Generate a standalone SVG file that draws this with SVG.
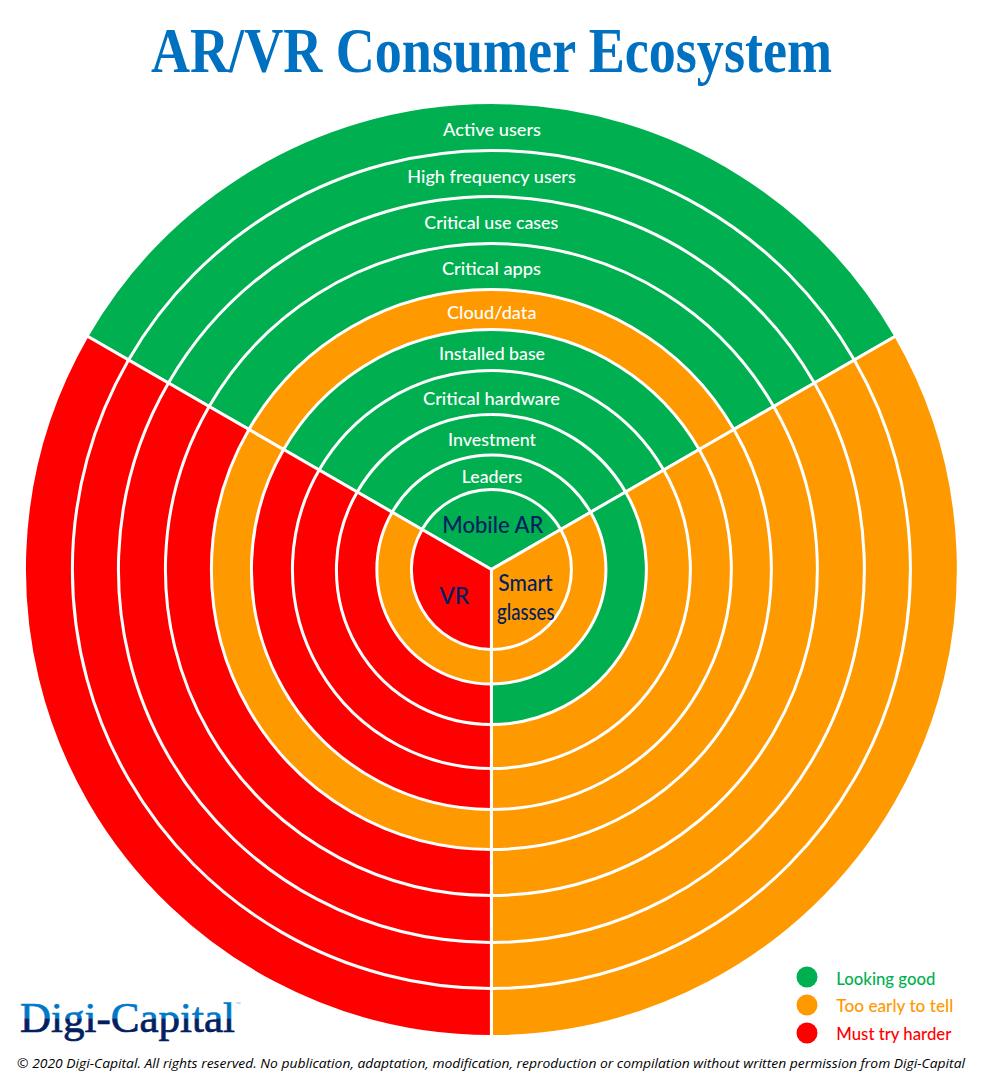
<svg xmlns="http://www.w3.org/2000/svg" width="983" height="1080" viewBox="0 0 983 1080">
<style>
.g{fill:#00B050}.o{fill:#FF9900}.r{fill:#FF0000}
.ring path{stroke:#fff;stroke-width:3;stroke-linejoin:miter}
text{font-family:"Lato","Liberation Sans",sans-serif}
.lab{font-size:18px;fill:#fff;font-weight:500}
.core{font-size:23px;fill:#002060;font-weight:500}
.leg{font-size:17px;font-weight:500}
</style>
<defs>
<linearGradient id="logo" gradientUnits="userSpaceOnUse" x1="0" y1="1003" x2="0" y2="1045">
<stop offset="0" stop-color="#0078C8"/><stop offset="0.36" stop-color="#0078C8"/><stop offset="0.39" stop-color="#002060"/><stop offset="1" stop-color="#002060"/>
</linearGradient>
</defs>
<rect width="983" height="1080" fill="#fff"/>
<text id="title" x="151" y="72.3" textLength="681" lengthAdjust="spacingAndGlyphs" style="font-family:'Liberation Serif',serif;font-weight:700;font-size:63px;fill:#0070C0">AR/VR Consumer Ecosystem</text>
<g id="rings" transform="translate(491.4 569.5)">
<g class="ring" id="ring-active-users">
<path class="g" d="M0 0L-404.4 -233.5A467 467 0 0 1 404.4 -233.5Z"/>
<path class="o" d="M0 0L404.4 -233.5A467 467 0 0 1 0 467Z"/>
<path class="r" d="M0 0L0 467A467 467 0 0 1 -404.4 -233.5Z"/>
</g>
<g class="ring" id="ring-high-frequency-users">
<path class="g" d="M0 0L-362.9 -209.5A419 419 0 0 1 362.9 -209.5Z"/>
<path class="o" d="M0 0L362.9 -209.5A419 419 0 0 1 0 419Z"/>
<path class="r" d="M0 0L0 419A419 419 0 0 1 -362.9 -209.5Z"/>
</g>
<g class="ring" id="ring-critical-use-cases">
<path class="g" d="M0 0L-323 -186.5A373 373 0 0 1 323 -186.5Z"/>
<path class="o" d="M0 0L323 -186.5A373 373 0 0 1 0 373Z"/>
<path class="r" d="M0 0L0 373A373 373 0 0 1 -323 -186.5Z"/>
</g>
<g class="ring" id="ring-critical-apps">
<path class="g" d="M0 0L-282.3 -163A326 326 0 0 1 282.3 -163Z"/>
<path class="o" d="M0 0L282.3 -163A326 326 0 0 1 0 326Z"/>
<path class="r" d="M0 0L0 326A326 326 0 0 1 -282.3 -163Z"/>
</g>
<g class="ring" id="ring-cloud-data">
<path class="o" d="M0 0L-242.5 -140A280 280 0 0 1 242.5 -140Z"/>
<path class="o" d="M0 0L242.5 -140A280 280 0 0 1 0 280Z"/>
<path class="o" d="M0 0L0 280A280 280 0 0 1 -242.5 -140Z"/>
</g>
<g class="ring" id="ring-installed-base">
<path class="g" d="M0 0L-207.8 -120A240 240 0 0 1 207.8 -120Z"/>
<path class="o" d="M0 0L207.8 -120A240 240 0 0 1 0 240Z"/>
<path class="r" d="M0 0L0 240A240 240 0 0 1 -207.8 -120Z"/>
</g>
<g class="ring" id="ring-critical-hardware">
<path class="g" d="M0 0L-172.3 -99.5A199 199 0 0 1 172.3 -99.5Z"/>
<path class="o" d="M0 0L172.3 -99.5A199 199 0 0 1 0 199Z"/>
<path class="r" d="M0 0L0 199A199 199 0 0 1 -172.3 -99.5Z"/>
</g>
<g class="ring" id="ring-investment">
<path class="g" d="M0 0L-134.2 -77.5A155 155 0 0 1 134.2 -77.5Z"/>
<path class="g" d="M0 0L134.2 -77.5A155 155 0 0 1 0 155Z"/>
<path class="r" d="M0 0L0 155A155 155 0 0 1 -134.2 -77.5Z"/>
</g>
<g class="ring" id="ring-leaders">
<path class="g" d="M0 0L-99.2 -57.25A114.5 114.5 0 0 1 99.2 -57.25Z"/>
<path class="o" d="M0 0L99.2 -57.25A114.5 114.5 0 0 1 0 114.5Z"/>
<path class="o" d="M0 0L0 114.5A114.5 114.5 0 0 1 -99.2 -57.25Z"/>
</g>
<g class="ring" id="ring-core">
<path class="g" d="M0 0L-69.3 -40A80 80 0 0 1 69.3 -40Z"/>
<path class="o" d="M0 0L69.3 -40A80 80 0 0 1 0 80Z"/>
<path class="r" d="M0 0L0 80A80 80 0 0 1 -69.3 -40Z"/>
</g>
</g>
<g id="labels">
<text class="lab" x="443" y="135.7" textLength="98" lengthAdjust="spacingAndGlyphs">Active users</text>
<text class="lab" x="407.3" y="182.7" textLength="168.5" lengthAdjust="spacingAndGlyphs">High frequency users</text>
<text class="lab" x="424.3" y="229" textLength="134" lengthAdjust="spacingAndGlyphs">Critical use cases</text>
<text class="lab" x="442" y="275" textLength="99" lengthAdjust="spacingAndGlyphs">Critical apps</text>
<text class="lab" x="447" y="319" textLength="89.5" lengthAdjust="spacingAndGlyphs">Cloud/data</text>
<text class="lab" x="439" y="360" textLength="106" lengthAdjust="spacingAndGlyphs">Installed base</text>
<text class="lab" x="423" y="405" textLength="137" lengthAdjust="spacingAndGlyphs">Critical hardware</text>
<text class="lab" x="448" y="445.7" textLength="88" lengthAdjust="spacingAndGlyphs">Investment</text>
<text class="lab" x="461.7" y="482.7" textLength="60.5" lengthAdjust="spacingAndGlyphs">Leaders</text>
<text class="core" x="442.3" y="532.7" textLength="101" lengthAdjust="spacingAndGlyphs">Mobile AR</text>
<text class="core" x="498.3" y="590.7" textLength="54.4" lengthAdjust="spacingAndGlyphs">Smart</text>
<text class="core" x="497" y="620" textLength="57.5" lengthAdjust="spacingAndGlyphs">glasses</text>
<text class="core" x="439.3" y="604.3" textLength="30" lengthAdjust="spacingAndGlyphs">VR</text>
</g>
<g id="logo-mark">
<text x="20" y="1031.7" textLength="215" lengthAdjust="spacingAndGlyphs" style="font-family:'Liberation Serif',serif;font-weight:400;font-size:43px;fill:url(#logo);stroke:url(#logo);stroke-width:0.7">Digi-Capital</text>
<text x="235.5" y="1005.5" style="font-family:'Liberation Sans',sans-serif;font-size:5.5px;fill:#7FB7DF">™</text>
</g>
<g id="legend">
<g id="legend-good"><circle class="g" cx="807" cy="977" r="10.5"/><text class="leg g" x="836.3" y="985" textLength="99" lengthAdjust="spacingAndGlyphs">Looking good</text></g>
<g id="legend-early"><circle class="o" cx="807" cy="1005" r="10.5"/><text class="leg o" x="836.3" y="1012" textLength="117" lengthAdjust="spacingAndGlyphs">Too early to tell</text></g>
<g id="legend-harder"><circle class="r" cx="807" cy="1033" r="10.5"/><text class="leg r" x="836.3" y="1040" textLength="115" lengthAdjust="spacingAndGlyphs">Must try harder</text></g>
</g>
<text id="copyright" x="17" y="1067.7" textLength="948" lengthAdjust="spacingAndGlyphs" style="font-family:'Open Sans','Liberation Sans',sans-serif;font-style:italic;font-size:13px;fill:#000">© 2020 Digi-Capital. All rights reserved. No publication, adaptation, modification, reproduction or compilation without written permission from Digi-Capital</text>
</svg>
